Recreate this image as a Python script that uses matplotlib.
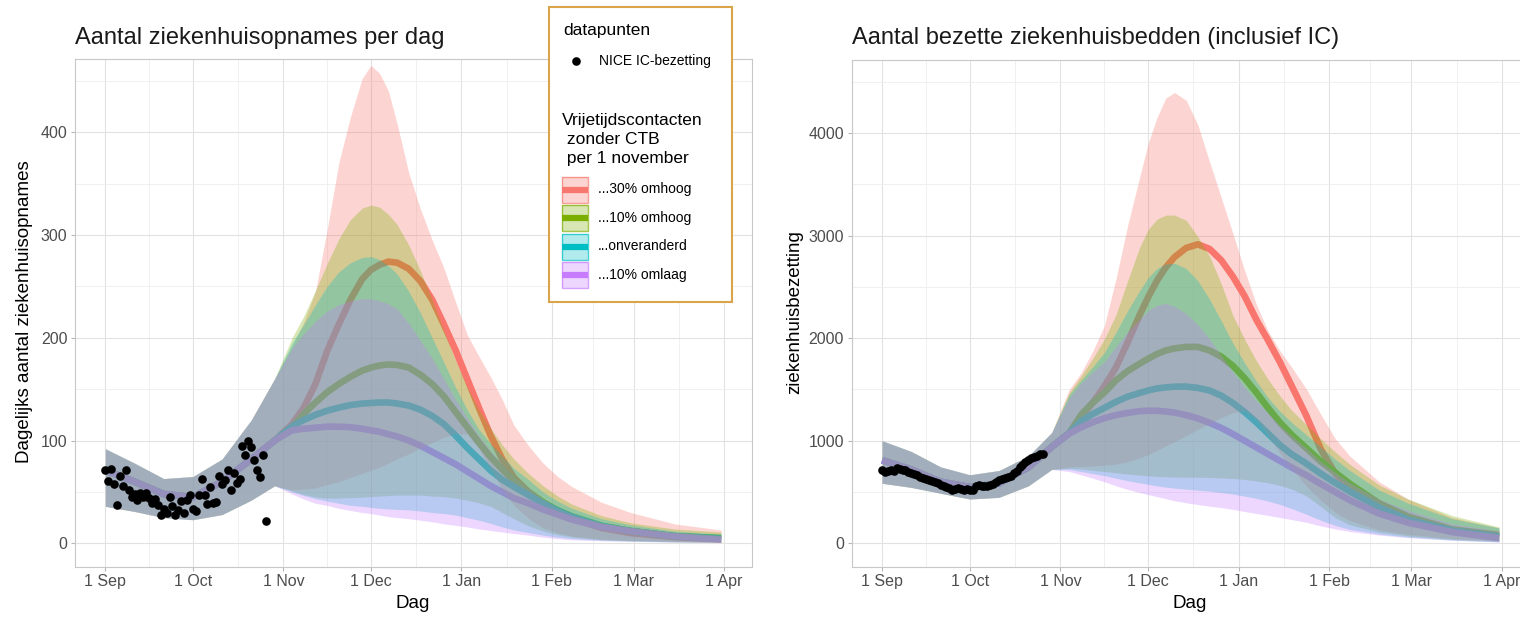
import numpy as np
import matplotlib
matplotlib.use('Agg')
import matplotlib.pyplot as plt
import matplotlib.dates as mdates
from matplotlib.ticker import FixedLocator, FixedFormatter
from matplotlib.patches import Rectangle

plt.rcParams['font.family'] = ['Liberation Sans', 'DejaVu Sans']

# ---------------- data ----------------
START = np.datetime64('2021-09-01')
pre_days = [0, 10, 20, 30, 40, 50, 58]
post_days = [64, 68, 72, 76, 80, 84, 88, 91, 94, 97, 100, 104, 108, 112, 116,
             120, 124, 128, 132, 136, 140, 145, 150, 155, 160, 170, 180, 195, 211]

scenario_labels = ['...30% omhoog', '...10% omhoog', '...onveranderd', '...10% omlaag']
scenario_colors = ['#F8766D', '#7CAE00', '#00BFC4', '#C77CFF']

month_labels = ['1 Sep', '1 Oct', '1 Nov', '1 Dec', '1 Jan', '1 Feb', '1 Mar', '1 Apr']
month_dates = ['2021-09-01', '2021-10-01', '2021-11-01', '2021-12-01',
               '2022-01-01', '2022-02-01', '2022-03-01', '2022-04-01']

# --- left panel: daily hospital admissions ---
adm_pre_mean = [71, 60, 48, 45, 60, 82, 100]
adm_pre_lo = [36, 31, 25, 23, 28, 42, 56]
adm_pre_hi = [92, 78, 63, 65, 82, 120, 160]

adm_mean_30up = [116, 132, 155, 187, 213, 237, 257, 266, 271, 274, 273, 267, 255, 237, 213,
                 188, 160, 132, 105, 82, 64, 50, 39, 31, 24, 15, 10, 6, 4]
adm_mean_10up = [113, 126, 137, 147, 155, 162, 168, 171, 173, 174, 173.5, 171, 164, 155, 143,
                 128, 113, 98, 84, 72, 61, 50, 40, 32, 26, 17, 12, 7, 5]
adm_mean_zero = [114, 120, 125, 129, 132, 134.5, 136, 136.5, 137, 137, 136, 134, 130, 124, 116,
                 105, 93, 82, 71, 62, 55, 47, 39, 32, 26, 17, 12, 7, 5]
adm_mean_10down = [110, 111.5, 112.5, 113.5, 113.5, 113, 111.5, 110, 108.5, 106, 104, 100, 95, 89, 83,
                   77, 70, 63, 56, 50, 44, 39, 33, 28, 23, 16, 12, 7, 4]

adm_lo_30up = [52, 52.5, 54, 57, 60, 64, 68, 71, 74, 78, 82, 87, 93, 98, 103,
               107, 106, 92, 72, 52, 37, 24, 15, 10, 7, 4, 3, 2, 1]
adm_lo_10up = [51, 47.5, 45, 44, 44, 44.5, 45, 45.5, 46, 46.5, 47, 47, 47, 46, 45.5,
               44, 42, 39.5, 36, 30, 24, 17, 12, 8.5, 6, 3.5, 2.5, 1.6, 1]
adm_lo_zero = [50, 46.5, 43.5, 41, 39, 37, 36, 35, 34, 33.5, 33, 32.5, 31.5, 30, 29,
               27.5, 25, 22.5, 19.5, 16, 13, 10.5, 8, 6, 4.5, 3, 2.2, 1.4, 1]
adm_lo_10down = [48, 43, 39, 37, 34, 32, 30, 29, 27.5, 26, 25, 24, 22.5, 21, 19,
                 17.5, 16, 14, 12.5, 11, 9.5, 8, 6, 4.5, 3.5, 2.5, 2, 1.2, 0.8]

adm_hi_30up = [192, 215, 245, 305, 370, 415, 452, 465, 457, 440, 408, 360, 325, 295, 268,
               235, 203, 182, 162, 140, 115, 95, 78, 65, 55, 40, 30, 19, 13]
adm_hi_10up = [200, 221, 246, 272, 296, 315, 326, 329, 327, 320, 310, 290, 265, 237, 207,
               178, 152, 130, 112, 96, 82, 68, 56, 46, 38, 27, 20, 14, 11]
adm_hi_zero = [195, 213, 232, 250, 264, 273, 278, 279, 276, 270, 262, 245, 224, 200, 176,
               152, 130, 111, 97, 85, 73, 62, 50, 41, 34, 24, 18, 12, 9]
adm_hi_10down = [190, 204, 216, 226, 232, 236, 238, 238, 236, 233, 228, 214, 197, 180, 160,
                 140, 122, 105, 90, 77, 65, 54, 43, 35, 29, 20, 15, 10, 7]

adm_points = [71, 61, 72, 58, 37, 66, 56, 71, 52, 45,
              48, 42, 49, 45, 49, 44, 39, 43, 37, 28,
              33, 30, 45, 36, 28, 32, 41, 30, 42, 47,
              33, 31, 47, 63, 47, 38, 55, 39, 40, 66,
              58, 62, 71, 52, 68, 59, 63, 95, 86, 100,
              94, 81, 71, 65, 86, 22]

# --- right panel: occupied hospital beds ---
bed_pre_mean = [810, 720, 600, 548, 585, 740, 940]
bed_pre_lo = [585, 545, 488, 432, 448, 560, 720]
bed_pre_hi = [1000, 895, 745, 668, 710, 850, 1080]

bed_mean_30up = [1075, 1230, 1370, 1530, 1715, 1960, 2220, 2400, 2560, 2690, 2790, 2880, 2915, 2870, 2760,
                 2600, 2410, 2180, 1980, 1770, 1540, 1250, 920, 680, 520, 350, 235, 120, 55]
bed_mean_10up = [1075, 1250, 1370, 1470, 1590, 1680, 1750, 1800, 1845, 1880, 1900, 1915, 1915, 1880, 1820,
                 1730, 1610, 1470, 1320, 1180, 1060, 930, 800, 690, 580, 390, 260, 135, 80]
bed_mean_zero = [1075, 1190, 1260, 1320, 1380, 1430, 1465, 1490, 1510, 1520, 1527, 1528, 1515, 1490, 1440,
                 1368, 1280, 1180, 1070, 960, 870, 780, 680, 590, 505, 350, 230, 125, 65]
bed_mean_10down = [1070, 1130, 1180, 1220, 1250, 1272, 1288, 1293, 1292, 1285, 1275, 1250, 1218, 1175, 1125,
                   1065, 1000, 935, 870, 805, 740, 665, 580, 500, 420, 290, 200, 110, 50]

bed_lo_30up = [745, 748, 752, 760, 772, 795, 830, 865, 905, 950, 990, 1050, 1110, 1170, 1225,
               1275, 1290, 1210, 1050, 880, 730, 560, 420, 300, 220, 130, 85, 45, 25]
bed_lo_10up = [732, 725, 712, 700, 688, 675, 665, 658, 652, 648, 646, 645, 644, 642, 638,
               632, 622, 608, 590, 565, 530, 465, 360, 250, 180, 110, 72, 38, 20]
bed_lo_zero = [720, 700, 680, 660, 635, 610, 590, 575, 560, 548, 538, 528, 518, 508, 495,
               480, 460, 438, 412, 380, 340, 285, 225, 175, 135, 90, 60, 32, 15]
bed_lo_10down = [700, 668, 635, 600, 560, 525, 495, 475, 455, 435, 415, 395, 378, 362, 348,
                 330, 310, 290, 272, 252, 232, 205, 170, 140, 115, 80, 55, 30, 12]

bed_hi_30up = [1500, 1660, 1870, 2120, 2580, 3100, 3560, 3900, 4150, 4340, 4395, 4320, 4080, 3720, 3370,
               3020, 2660, 2330, 2070, 1880, 1720, 1510, 1260, 1020, 850, 600, 430, 250, 150]
bed_hi_10up = [1470, 1630, 1800, 1990, 2230, 2560, 2880, 3060, 3160, 3200, 3200, 3150, 2990, 2800, 2530,
               2220, 1990, 1780, 1600, 1440, 1300, 1160, 1020, 890, 770, 570, 430, 270, 160]
bed_hi_zero = [1450, 1590, 1720, 1860, 2060, 2270, 2460, 2590, 2680, 2725, 2730, 2680, 2560, 2380, 2170,
               1950, 1760, 1580, 1420, 1290, 1180, 1060, 940, 820, 710, 520, 390, 240, 150]
bed_hi_10down = [1420, 1560, 1670, 1770, 1920, 2060, 2180, 2270, 2320, 2340, 2310, 2240, 2130, 1990, 1830,
                 1670, 1520, 1390, 1270, 1150, 1050, 930, 800, 690, 590, 430, 320, 190, 120]

bed_points = [710, 700, 705, 712, 708, 730, 725, 716, 712, 695,
              688, 675, 662, 648, 636, 628, 616, 610, 600, 590,
              570, 560, 548, 536, 522, 530, 538, 528, 524, 532,
              520, 522, 560, 572, 560, 556, 562, 568, 575, 600,
              615, 628, 636, 650, 660, 690, 705, 740, 760, 790,
              810, 828, 840, 850, 875, 868]

# ---------------- figure ----------------
W, H = 1520, 619
fig = plt.figure(figsize=(W / 100, H / 100), dpi=100)


def rect_px(x0, y0, x1, y1):
    return [x0 / W, 1 - y1 / H, (x1 - x0) / W, (y1 - y0) / H]


axL = fig.add_axes(rect_px(75, 59.3, 752, 566.7))
axR = fig.add_axes(rect_px(851.7, 60, 1530, 566.7))

full_days = np.array(pre_days + post_days)
x_full = START + full_days.astype('timedelta64[D]')
x_pts = START + np.arange(len(adm_points)).astype('timedelta64[D]')
x_pts_r = START + np.arange(len(bed_points)).astype('timedelta64[D]')

x0num = mdates.date2num(START)
month_nums = [mdates.date2num(np.datetime64(d)) for d in month_dates]
mid_nums = [(a + b) / 2 for a, b in zip(month_nums[:-1], month_nums[1:])]


def draw_panel(ax, pre_mean, pre_lo, pre_hi, means, los, his, pts, xpts):
    for m, c in zip(means, scenario_colors):
        ax.plot(x_full, list(pre_mean) + list(m), color=c, lw=4.8,
                solid_capstyle='butt', solid_joinstyle='round', zorder=2)
    for lo, hi, c in zip(los, his, scenario_colors):
        ax.fill_between(x_full, list(pre_lo) + list(lo), list(pre_hi) + list(hi),
                        color=c, alpha=0.3, lw=0, zorder=3)
    ax.plot(xpts, pts, 'o', color='black', ms=6.2, mec='none', zorder=5)


def style(ax, ylim, yticks, yminor):
    ax.set_xlim(x0num - 10.4, x0num + 221.6)
    ax.set_ylim(*ylim)
    ax.xaxis.set_major_locator(FixedLocator(month_nums))
    ax.xaxis.set_major_formatter(FixedFormatter(month_labels))
    ax.xaxis.set_minor_locator(FixedLocator(mid_nums))
    ax.set_yticks(yticks)
    ax.set_yticks(yminor, minor=True)
    ax.grid(which='major', color='#e2e2e2', lw=0.8)
    ax.grid(which='minor', color='#eeeeee', lw=0.6)
    ax.tick_params(which='minor', length=0)
    ax.tick_params(which='major', length=3, width=0.8, color='#b8b8b8',
                   labelsize=11.5, labelcolor='#4d4d4d', pad=2.5)
    for s in ax.spines.values():
        s.set_color('#c8c8c8')
        s.set_linewidth(0.8)
    ax.set_axisbelow(True)


draw_panel(axL, adm_pre_mean, adm_pre_lo, adm_pre_hi,
           [adm_mean_30up, adm_mean_10up, adm_mean_zero, adm_mean_10down],
           [adm_lo_30up, adm_lo_10up, adm_lo_zero, adm_lo_10down],
           [adm_hi_30up, adm_hi_10up, adm_hi_zero, adm_hi_10down],
           adm_points, x_pts)
draw_panel(axR, bed_pre_mean, bed_pre_lo, bed_pre_hi,
           [bed_mean_30up, bed_mean_10up, bed_mean_zero, bed_mean_10down],
           [bed_lo_30up, bed_lo_10up, bed_lo_zero, bed_lo_10down],
           [bed_hi_30up, bed_hi_10up, bed_hi_zero, bed_hi_10down],
           bed_points, x_pts_r)

style(axL, (-22.7, 470.8), [0, 100, 200, 300, 400], [50, 150, 250, 350, 450])
style(axR, (-228, 4712), [0, 1000, 2000, 3000, 4000], [500, 1500, 2500, 3500, 4500])

# titles and axis labels
fig.text(75 / W, 1 - 44 / H, 'Aantal ziekenhuisopnames per dag', fontsize=17,
         ha='left', va='baseline', color='#1a1a1a')
fig.text(852 / W, 1 - 44 / H, 'Aantal bezette ziekenhuisbedden (inclusief IC)', fontsize=17,
         ha='left', va='baseline', color='#1a1a1a')
fig.text(413 / W, 1 - 604 / H, 'Dag', fontsize=13.5, ha='center', va='center')
fig.text(1190 / W, 1 - 604 / H, 'Dag', fontsize=13.5, ha='center', va='center')
fig.text(25 / W, 1 - 312 / H, 'Dagelijks aantal ziekenhuisopnames', fontsize=13.5,
         rotation=90, ha='center', va='center')
fig.text(795 / W, 1 - 312 / H, 'ziekenhuisbezetting', fontsize=13.5,
         rotation=90, ha='center', va='center')

# ---------------- legend (drawn in pixel space) ----------------
lax = fig.add_axes([0, 0, 1, 1], facecolor='none', zorder=10)
lax.set_xlim(0, W)
lax.set_ylim(H, 0)
lax.axis('off')
lax.add_patch(Rectangle((549, 7), 183, 295, facecolor='white', edgecolor='#D9A44A', lw=1.5))
lax.text(563, 30, 'datapunten', fontsize=12.5, ha='left', va='center')
lax.plot([576], [61], 'o', color='black', ms=6.2, mec='none')
lax.text(599, 61, 'NICE IC-bezetting', fontsize=10, ha='left', va='center')
lax.text(562, 113, 'Vrijetijdscontacten\n zonder CTB\n per 1 november', fontsize=12.5,
         ha='left', va='top', linespacing=1.32)
key_y = [189.5, 218, 246.5, 274.5]
for yk, c, lab in zip(key_y, scenario_colors, scenario_labels):
    lax.add_patch(Rectangle((562, yk - 13), 26, 26, facecolor=c, alpha=0.3, lw=0))
    lax.add_patch(Rectangle((562, yk - 13), 26, 26, facecolor='none', edgecolor=c,
                            alpha=0.7, lw=1.0))
    lax.plot([562, 588], [yk, yk], color=c, lw=4.5, solid_capstyle='butt')
    lax.text(598, yk, lab, fontsize=10, ha='left', va='center')

fig.savefig('out.png', dpi=100)
